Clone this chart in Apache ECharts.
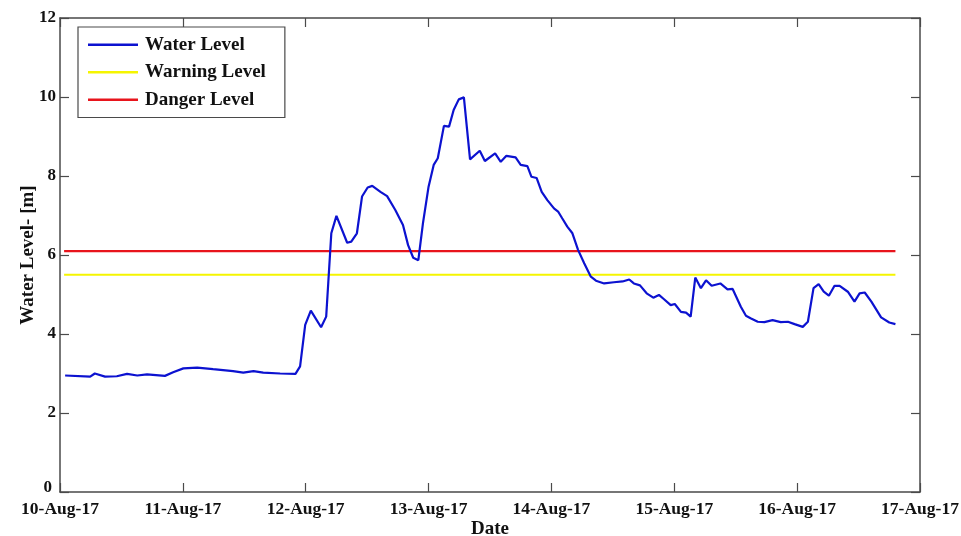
<!DOCTYPE html>
<html>
<head>
<meta charset="utf-8">
<title>Water Level</title>
<script src="https://cdn.jsdelivr.net/npm/echarts@6/dist/echarts.min.js"></script>
<style>
  html, body { margin: 0; padding: 0; background: #fff; }
  #chart { width: 961px; height: 536px; }
</style>
</head>
<body>
<div id="chart"></div>
<script>
// 横轴用小时（自 10-Aug-17 00:00 起），标签按天
const dayLabels = ['10-Aug-17', '11-Aug-17', '12-Aug-17', '13-Aug-17',
  '14-Aug-17', '15-Aug-17', '16-Aug-17', '17-Aug-17'];

const hours = [
  1.0, 5.9, 6.8, 8.8, 11.1, 13.1, 15.1, 17.0, 20.5, 22.1,
  24.1, 26.8, 29.9, 33.8, 35.8, 37.8, 39.7, 43.0, 46.0, 46.9,
  47.9, 49.0, 51.0, 52.0, 53.0, 54.0, 56.1, 56.9, 58.0, 59.0,
  60.1, 61.0, 62.6, 63.9, 65.5, 67.0, 68.0, 69.0, 70.0, 70.9,
  72.0, 73.0, 73.8, 75.0, 76.0, 76.9, 77.9, 78.9, 80.1, 82.0,
  83.0, 85.0, 86.1, 87.2, 89.0, 90.0, 91.3, 92.1, 93.1, 94.1,
  95.2, 96.5, 97.3, 98.1, 99.1, 100.1, 101.2, 102.4, 103.7, 104.7,
  106.3, 108.2, 109.9, 111.2, 112.1, 113.3, 114.6, 115.9, 117.0, 118.0,
  119.3, 120.1, 121.3, 122.3, 123.2, 124.1, 125.2, 126.2, 127.3, 129.0,
  130.4, 131.4, 133.0, 134.0, 134.9, 136.3, 137.6, 139.2, 140.8, 142.2,
  143.5, 145.1, 146.1, 147.2, 148.2, 149.2, 150.2, 151.3, 152.3, 153.9,
  155.2, 156.2, 157.2, 158.5, 160.4, 162.0, 163.2
];

const waterLevel = [
  2.95, 2.92, 3.00, 2.92, 2.93, 2.99, 2.95, 2.98, 2.94, 3.03,
  3.13, 3.15, 3.11, 3.06, 3.02, 3.06, 3.02, 3.00, 2.99, 3.18,
  4.23, 4.59, 4.17, 4.44, 6.55, 6.99, 6.31, 6.34, 6.55, 7.48,
  7.71, 7.75, 7.60, 7.49, 7.14, 6.76, 6.25, 5.93, 5.87, 6.80,
  7.73, 8.28, 8.45, 9.27, 9.25, 9.67, 9.94, 9.99, 8.42, 8.64,
  8.38, 8.57, 8.36, 8.51, 8.47, 8.28, 8.25, 7.98, 7.95, 7.60,
  7.39, 7.18, 7.10, 6.93, 6.72, 6.55, 6.13, 5.79, 5.45, 5.35,
  5.28, 5.31, 5.33, 5.38, 5.28, 5.23, 5.03, 4.92, 4.99, 4.88,
  4.73, 4.76, 4.56, 4.54, 4.44, 5.43, 5.16, 5.36, 5.22, 5.28,
  5.13, 5.14, 4.69, 4.46, 4.40, 4.31, 4.30, 4.35, 4.30, 4.31,
  4.25, 4.18, 4.31, 5.16, 5.26, 5.07, 4.97, 5.22, 5.22, 5.07,
  4.82, 5.03, 5.05, 4.82, 4.42, 4.29, 4.25
];

const warningLevel = 5.5;
const dangerLevel = 6.1;
const levelSpan = [0.8, 163.2];

const FONT = 'Liberation Serif';
const AXIS_COLOR = '#4a4a4a';
const TEXT_COLOR = '#111';

const chart = echarts.init(document.getElementById('chart'), null, { renderer: 'canvas' });

// 四周封闭的坐标框，刻度朝内
const boxAxis = (extra) => ({
  type: 'value',
  axisLine: { show: true, onZero: false, lineStyle: { color: AXIS_COLOR, width: 1.5 } },
  axisTick: { show: true, inside: true, length: 9, lineStyle: { color: AXIS_COLOR, width: 1.2 } },
  splitLine: { show: false },
  ...extra,
});

chart.setOption({
  animation: false,
  backgroundColor: '#fff',
  grid: { left: 60, right: 41, top: 18, bottom: 44, outerBoundsMode: 'none', containLabel: false },
  legend: {
    orient: 'vertical',
    left: 78,
    top: 27,
    padding: [7, 19, 7, 10],
    borderColor: AXIS_COLOR,
    borderWidth: 1.2,
    backgroundColor: '#fff',
    icon: 'rect',
    itemWidth: 50,
    itemHeight: 2.5,
    itemGap: 6,
    textStyle: { fontFamily: FONT, fontWeight: 'bold', fontSize: 19, color: TEXT_COLOR, lineHeight: 21.5, padding: [0, 0, 0, 2] },
    data: ['Water Level', 'Warning Level', 'Danger Level'],
  },
  xAxis: [
    boxAxis({
      min: 0, max: 168, interval: 24,
      name: 'Date',
      nameLocation: 'middle',
      nameGap: 28,
      nameMoveOverlap: false,
      nameTextStyle: { fontFamily: FONT, fontWeight: 'bold', fontSize: 19, color: TEXT_COLOR },
      axisLabel: {
        margin: 8,
        fontFamily: FONT, fontWeight: 'bold', fontSize: 17.5, color: TEXT_COLOR,
        formatter: (v) => dayLabels[Math.round(v / 24)],
      },
    }),
    boxAxis({
      position: 'top', min: 0, max: 168, interval: 24,
      axisLabel: { show: false },
    }),
  ],
  yAxis: [
    boxAxis({
      min: 0, max: 12, interval: 2,
      name: 'Water Level- [m]',
      nameLocation: 'middle',
      nameGap: 22,
      nameMoveOverlap: false,
      nameTextStyle: { fontFamily: FONT, fontWeight: 'bold', fontSize: 19, color: TEXT_COLOR },
      axisLabel: {
        margin: 4,
        fontFamily: FONT, fontWeight: 'bold', fontSize: 17, color: TEXT_COLOR,
        formatter: (v) => (v === 0 ? '{z|0}' : String(v)),
        rich: { z: { fontFamily: FONT, fontWeight: 'bold', fontSize: 17, color: TEXT_COLOR, padding: [0, 4, 8, 0] } },
      },
    }),
    boxAxis({
      position: 'right', min: 0, max: 12, interval: 2,
      axisLabel: { show: false },
    }),
  ],
  series: [
    {
      name: 'Water Level',
      type: 'line',
      symbol: 'none',
      data: hours.map((h, i) => [h, waterLevel[i]]),
      lineStyle: { color: '#0c12d0', width: 2.2 },
      itemStyle: { color: '#0c12d0' },
      z: 4,
    },
    {
      name: 'Warning Level',
      type: 'line',
      symbol: 'none',
      data: levelSpan.map((h) => [h, warningLevel]),
      lineStyle: { color: '#f5f500', width: 2.2 },
      itemStyle: { color: '#f5f500' },
      z: 3,
    },
    {
      name: 'Danger Level',
      type: 'line',
      symbol: 'none',
      data: levelSpan.map((h) => [h, dangerLevel]),
      lineStyle: { color: '#e8141c', width: 2.2 },
      itemStyle: { color: '#e8141c' },
      z: 3,
    },
  ],
});
</script>
</body>
</html>
